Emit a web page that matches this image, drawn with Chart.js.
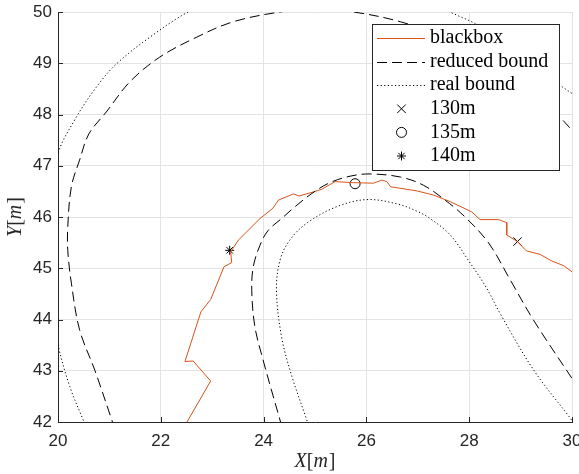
<!DOCTYPE html>
<html>
<head>
<meta charset="utf-8">
<script src="https://cdn.jsdelivr.net/npm/chart.js@4/dist/chart.umd.min.js"></script>
<style>
  html, body { margin: 0; padding: 0; background: #ffffff; }
  #wrap { width: 579px; height: 474px; position: relative; }
</style>
</head>
<body>
<div id="wrap"><canvas id="c" width="579" height="474"></canvas></div>
<script>
// Vehicle path (blackbox controller), metres
const blackboxX = [22.45, 22.51, 22.97, 22.63, 22.47, 22.78, 22.97, 23.23, 23.38, 23.36, 23.51, 23.64, 23.93, 24.18, 24.29, 24.58, 24.69, 24.97, 25.13, 25.39, 25.75, 26.14, 26.30, 26.40, 26.47, 26.98, 27.30, 27.63, 28.05, 28.21, 28.57, 28.73, 28.73, 28.94, 29.11, 29.38, 29.61, 29.84, 30.00, 30.10];
const blackboxY = [41.90, 42.00, 42.80, 43.19, 43.18, 44.15, 44.39, 45.03, 45.11, 45.32, 45.55, 45.68, 45.97, 46.17, 46.33, 46.45, 46.41, 46.49, 46.54, 46.69, 46.67, 46.66, 46.72, 46.69, 46.59, 46.51, 46.43, 46.30, 46.10, 45.95, 45.95, 45.89, 45.65, 45.52, 45.34, 45.27, 45.14, 45.05, 44.93, 44.85];

// Reduced bound: inner (hairpin) and outer edges
const reducedInnerX = [24.36, 24.33, 23.99, 23.83, 23.77, 23.80, 23.93, 24.09, 24.35, 24.61, 24.94, 25.29, 25.70, 26.07, 26.66, 27.11, 27.53, 27.92, 28.38, 28.80, 29.25, 30.00, 30.10];
const reducedInnerY = [41.90, 42.00, 43.21, 43.86, 44.57, 45.03, 45.45, 45.74, 45.97, 46.20, 46.46, 46.67, 46.80, 46.84, 46.78, 46.62, 46.33, 46.00, 45.49, 44.77, 43.99, 42.85, 42.70];
const reducedOuterX = [21.11, 21.06, 20.72, 20.42, 20.26, 20.19, 20.19, 20.26, 20.42, 20.60, 20.94, 21.40, 21.98, 22.70, 23.41, 24.32, 25.00, 25.75, 26.66, 27.60, 28.50, 29.20, 29.76, 30.00, 30.10];
const reducedOuterY = [41.85, 42.00, 43.00, 43.80, 44.71, 45.35, 45.81, 46.59, 47.11, 47.62, 48.05, 48.64, 49.12, 49.51, 49.81, 50.00, 50.06, 50.00, 49.81, 49.48, 48.99, 48.46, 47.95, 47.69, 47.55];

// Real bound: inner and outer edges
const realInnerX = [24.86, 24.84, 24.55, 24.35, 24.25, 24.32, 24.51, 24.84, 25.42, 26.01, 26.62, 27.01, 27.24, 27.63, 27.98, 28.34, 28.60, 29.25, 29.97, 30.05];
const realInnerY = [41.95, 42.04, 42.89, 43.66, 44.57, 45.16, 45.55, 45.88, 46.20, 46.34, 46.25, 46.10, 45.97, 45.65, 45.16, 44.61, 44.12, 43.02, 42.07, 41.95];
const realOuterX = [20.55, 20.49, 20.23, 20.00, 19.85, 19.80, 19.85, 20.00, 20.34, 20.75, 21.14, 21.79, 22.53, 23.50, 24.60, 25.70, 26.80, 27.69, 28.12, 28.95, 29.77, 30.00, 30.10];
const realOuterY = [41.90, 42.04, 42.69, 43.50, 44.30, 45.30, 46.30, 47.24, 47.92, 48.54, 48.99, 49.51, 50.00, 50.45, 50.65, 50.62, 50.40, 49.97, 49.77, 49.25, 48.57, 48.41, 48.33];

// Distance markers along the path
const markerLabels = ['130m', '135m', '140m'];
const markerX = [28.94, 25.78, 23.34];
const markerY = [45.52, 46.65, 45.35];

const seriesNames = ['blackbox', 'reduced bound', 'real bound'];
const xTicks = [20, 22, 24, 26, 28, 30];
const yTicks = [42, 43, 44, 45, 46, 47, 48, 49, 50];

const pts = (xs, ys) => xs.map((x, i) => ({ x: x, y: ys[i] }));

const ORANGE = '#D95319';
const INK = '#262626';
const DASH = [10, 5];
const DOT = [1.2, 2.4];

const lineDs = (label, xs, ys, color, dash, tension) => ({
  label: label,
  data: pts(xs, ys),
  showLine: true,
  borderColor: color,
  borderWidth: 1,
  borderDash: dash,
  pointRadius: 0,
  pointHoverRadius: 0,
  fill: false,
  tension: tension
});

const markerStyles = [
  { pointStyle: 'crossRot', radius: 6 },
  { pointStyle: 'circle', radius: 5 },
  { pointStyle: 'star', radius: 4.5 }
];

const datasets = [
  lineDs(seriesNames[1], reducedOuterX, reducedOuterY, '#000000', DASH, 0.35),
  lineDs(seriesNames[1], reducedInnerX, reducedInnerY, '#000000', DASH, 0.35),
  lineDs(seriesNames[2], realOuterX, realOuterY, '#000000', DOT, 0.35),
  lineDs(seriesNames[2], realInnerX, realInnerY, '#000000', DOT, 0.35),
  lineDs(seriesNames[0], blackboxX, blackboxY, ORANGE, [], 0),
];
markerLabels.forEach((lab, i) => {
  datasets.push({
    label: lab,
    data: [{ x: markerX[i], y: markerY[i] }],
    showLine: false,
    pointStyle: markerStyles[i].pointStyle,
    pointRadius: markerStyles[i].radius,
    pointHoverRadius: markerStyles[i].radius,
    pointBorderColor: '#000000',
    pointBackgroundColor: 'rgba(0,0,0,0)',
    pointBorderWidth: 1
  });
});

// Legend entries: line samples then markers
const legendEntries = [
  { text: seriesNames[0], kind: 'line', color: ORANGE, dash: [] },
  { text: seriesNames[1], kind: 'line', color: '#000000', dash: DASH },
  { text: seriesNames[2], kind: 'line', color: '#000000', dash: DOT },
].concat(markerLabels.map((lab, i) => ({ text: lab, kind: 'marker', style: markerStyles[i] })));

const boxLegend = {
  id: 'boxLegend',
  afterDraw(chart) {
    const ctx = chart.ctx;
    const x0 = 372.5, y0 = 24.5, w = 187, h = 146;
    ctx.save();
    ctx.fillStyle = '#ffffff';
    ctx.fillRect(x0, y0, w, h);
    ctx.strokeStyle = INK;
    ctx.lineWidth = 1;
    ctx.setLineDash([]);
    ctx.strokeRect(x0, y0, w, h);
    legendEntries.forEach((e, i) => {
      const cy = y0 + 13.5 + i * 23.6;
      if (e.kind === 'line') {
        ctx.save();
        ctx.strokeStyle = e.color;
        ctx.lineWidth = 1;
        ctx.setLineDash(e.dash);
        ctx.beginPath();
        ctx.moveTo(377, Math.round(cy) + 0.5);
        ctx.lineTo(425, Math.round(cy) + 0.5);
        ctx.stroke();
        ctx.restore();
      } else {
        ctx.save();
        ctx.strokeStyle = '#000000';
        ctx.fillStyle = 'rgba(0,0,0,0)';
        ctx.lineWidth = 1;
        ctx.setLineDash([]);
        Chart.helpers.drawPoint(ctx, { pointStyle: e.style.pointStyle, radius: e.style.radius, rotation: 0, borderWidth: 1 }, 401.5, cy);
        ctx.restore();
      }
      ctx.fillStyle = '#000000';
      ctx.font = '20px "Liberation Serif", "Times New Roman", serif';
      ctx.textAlign = 'left';
      ctx.textBaseline = 'middle';
      ctx.fillText(e.text, 430, cy);
    });
    ctx.restore();
  }
};

// Inward tick marks and the math-style axis titles
const axisDecor = {
  id: 'axisDecor',
  afterDraw(chart) {
    const ctx = chart.ctx;
    const a = chart.chartArea;
    const xs = chart.scales.x, ys = chart.scales.y;
    ctx.save();
    ctx.strokeStyle = INK;
    ctx.lineWidth = 1;
    ctx.setLineDash([]);
    ctx.beginPath();
    xTicks.forEach(v => {
      const px = Math.round(xs.getPixelForValue(v)) + 0.5;
      ctx.moveTo(px, a.bottom);
      ctx.lineTo(px, a.bottom - 5);
    });
    yTicks.forEach(v => {
      const py = Math.round(ys.getPixelForValue(v)) + 0.5;
      ctx.moveTo(a.left, py);
      ctx.lineTo(a.left + 5, py);
    });
    ctx.stroke();

    const ital = 'italic 20px "Liberation Serif", "Times New Roman", serif';
    const rom = '20px "Liberation Serif", "Times New Roman", serif';
    const drawMath = (sym, cx, cy) => {
      const parts = [[sym, ital], ['[', rom], ['m', ital], [']', rom]];
      let total = 0;
      parts.forEach(p => { ctx.font = p[1]; total += ctx.measureText(p[0]).width + (p[0] === 'm' ? 1 : 0); });
      let x = cx - total / 2;
      parts.forEach(p => {
        ctx.font = p[1];
        ctx.fillText(p[0], x, cy);
        x += ctx.measureText(p[0]).width + (p[0] === 'm' ? 1 : 0);
      });
    };
    ctx.fillStyle = INK;
    ctx.textAlign = 'left';
    ctx.textBaseline = 'middle';
    drawMath('X', (a.left + a.right) / 2, 462);
    ctx.save();
    ctx.translate(16, (a.top + a.bottom) / 2);
    ctx.rotate(-Math.PI / 2);
    drawMath('Y', 0, 0);
    ctx.restore();
    ctx.restore();
  }
};

const tickFont = { family: '"Liberation Sans", Helvetica, Arial, sans-serif', size: 17 };
const gridColor = '#e3e3e3';

new Chart(document.getElementById('c'), {
  type: 'scatter',
  data: { datasets: datasets },
  options: {
    responsive: false,
    animation: false,
    devicePixelRatio: 1,
    layout: { autoPadding: false, padding: { top: 12, right: 7, left: 0, bottom: 0 } },
    plugins: { legend: { display: false }, tooltip: { enabled: false } },
    scales: {
      x: {
        type: 'linear',
        min: 20, max: 30,
        afterBuildTicks: s => { s.ticks = xTicks.map(v => ({ value: v })); },
        afterFit: s => { s.height = 52; s.paddingLeft = 0; s.paddingRight = 0; s.paddingTop = 0; s.paddingBottom = 0; },
        ticks: { color: INK, font: tickFont, padding: 9, maxRotation: 0 },
        grid: { color: gridColor, lineWidth: 1, drawTicks: false },
        border: { color: INK, width: 1 }
      },
      y: {
        type: 'linear',
        min: 42, max: 50,
        afterBuildTicks: s => { s.ticks = yTicks.map(v => ({ value: v })); },
        afterFit: s => { s.width = 58; s.paddingLeft = 0; s.paddingRight = 0; s.paddingTop = 0; s.paddingBottom = 0; },
        ticks: { color: INK, font: tickFont, padding: 6 },
        grid: { color: gridColor, lineWidth: 1, drawTicks: false },
        border: { color: INK, width: 1 }
      }
    }
  },
  plugins: [axisDecor, boxLegend]
});
</script>
</body>
</html>
